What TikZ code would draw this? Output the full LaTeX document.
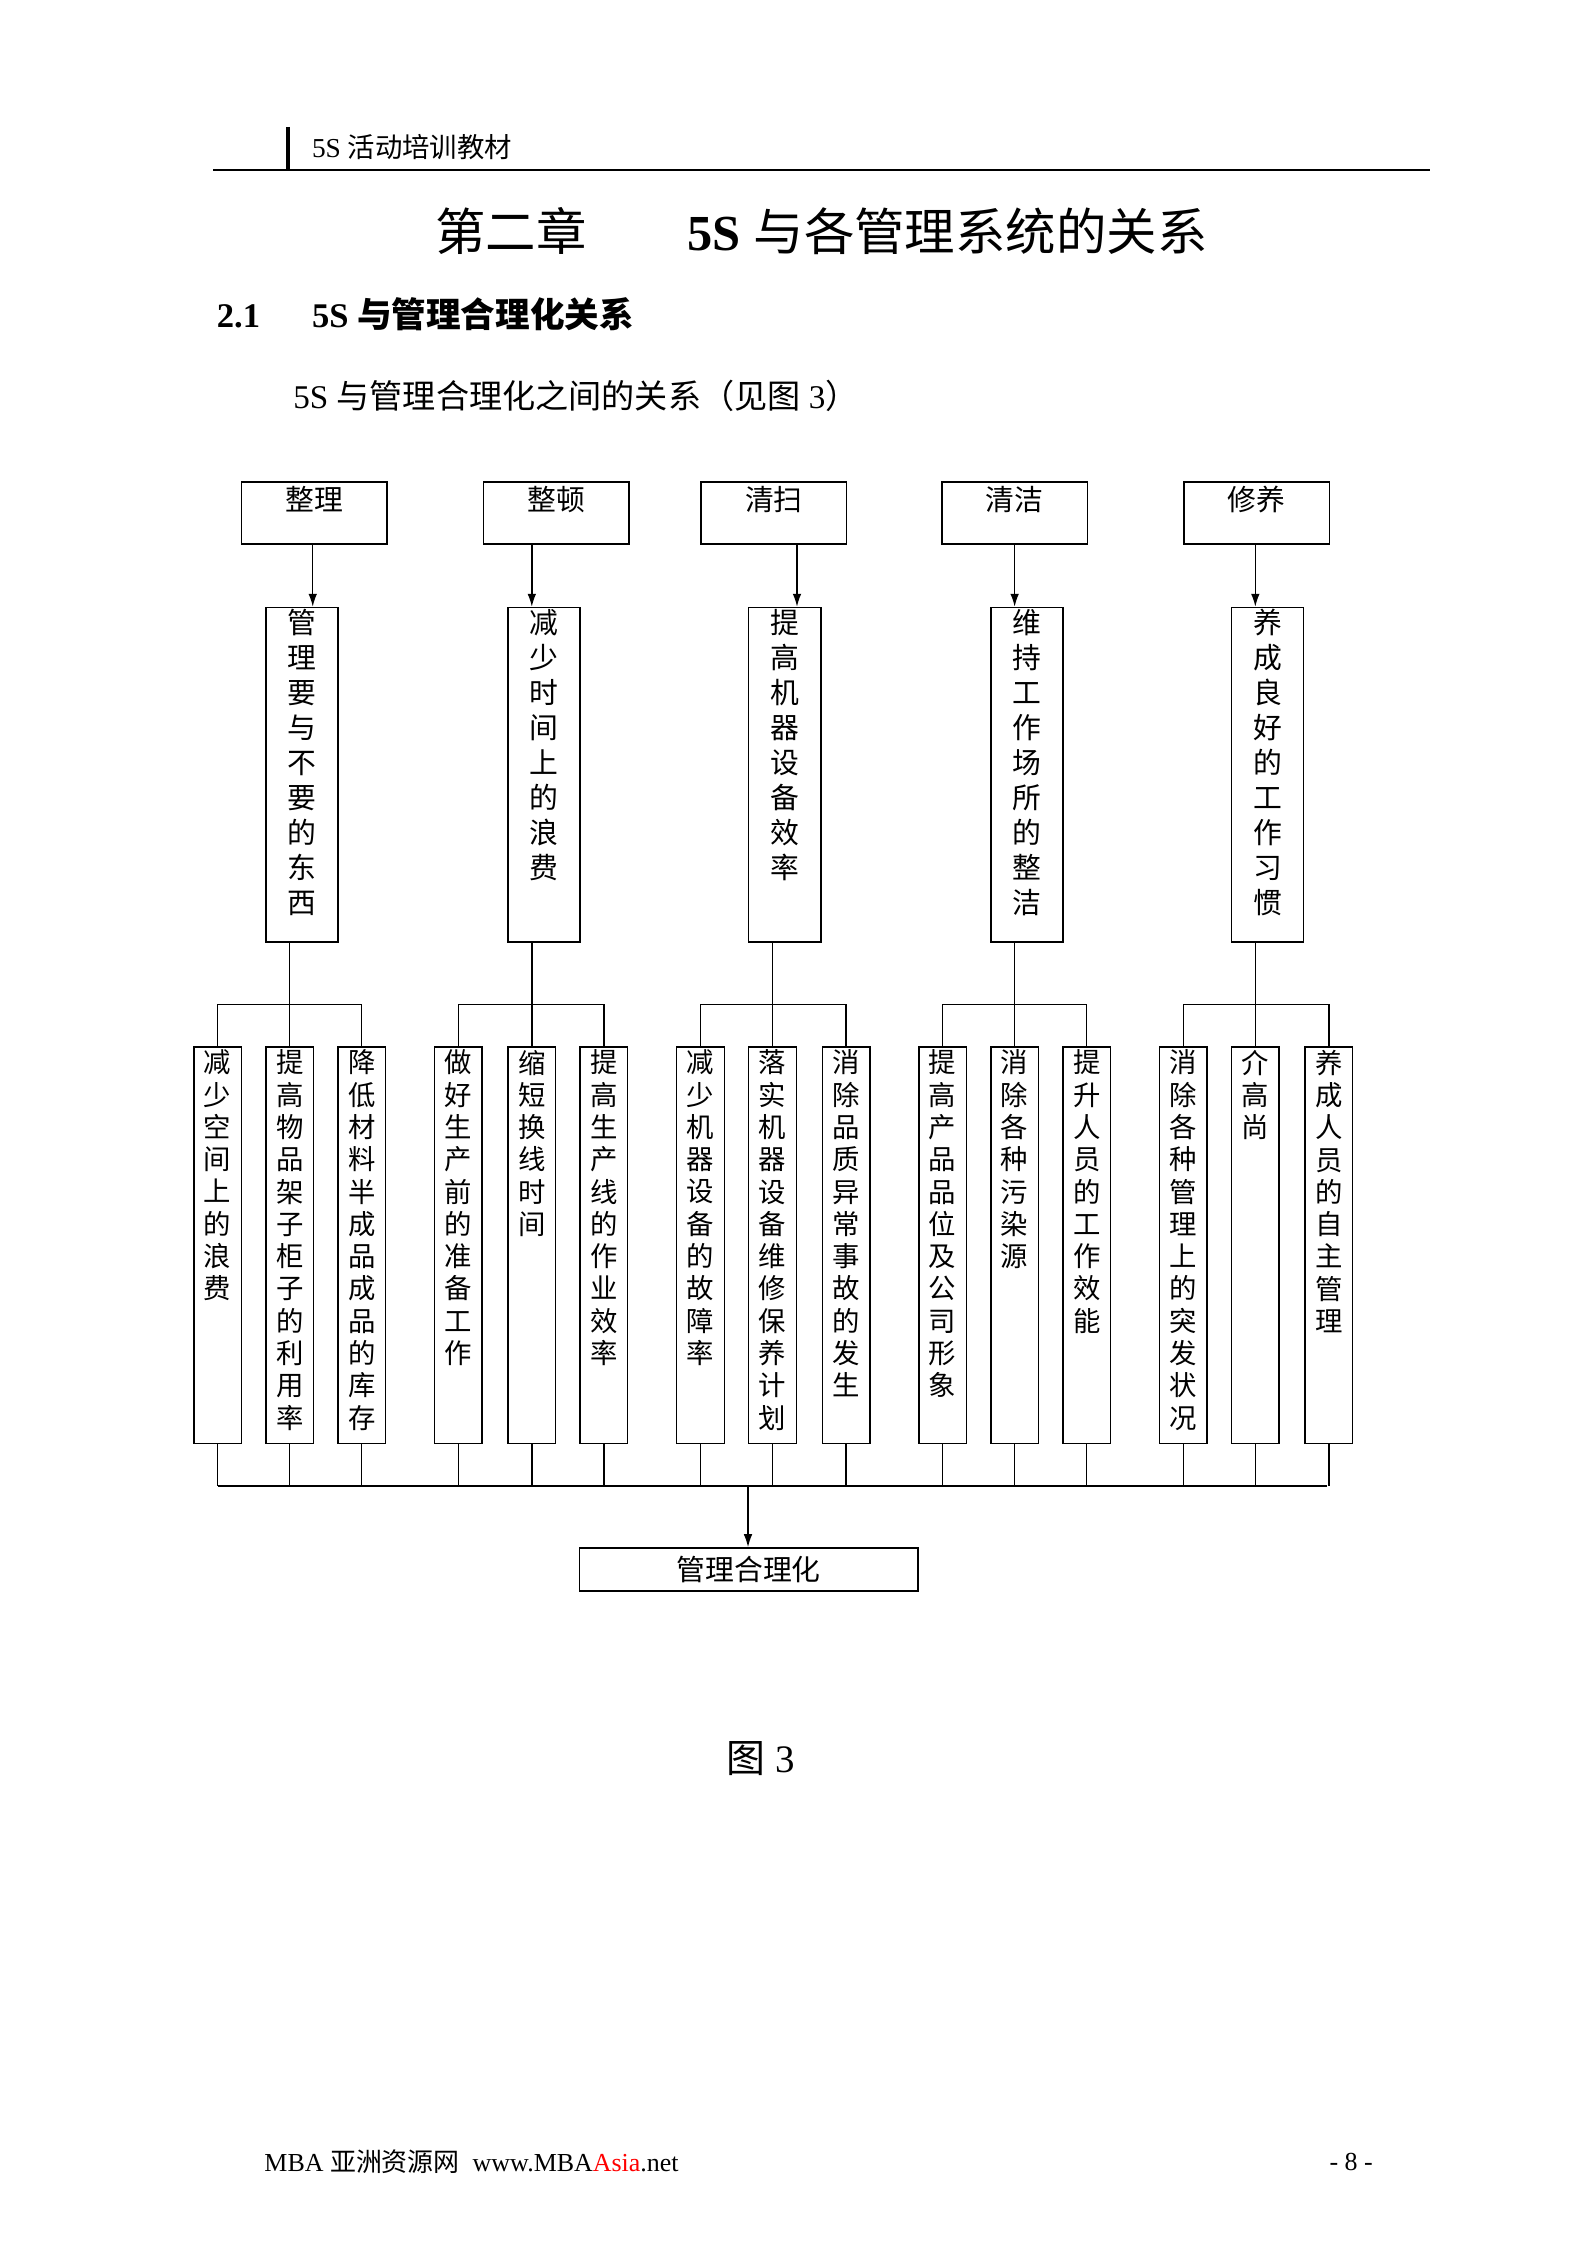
\documentclass[tikz,border=0pt]{standalone}
\usepackage{fontspec}
\usetikzlibrary{arrows.meta}
\setmainfont{Liberation Serif}
\newfontfamily\cjk{Noto Sans CJK SC}
\XeTeXlinebreaklocale "zh"
\XeTeXlinebreakskip=0pt plus 1pt
\begin{document}
\begin{tikzpicture}[x=1pt,y=-1pt,line width=1pt,
  bx/.style={draw,inner sep=0,anchor=north west},
  vtm/.style={anchor=north,inner sep=0,text width=21pt,align=center,font=\cjk\fontsize{20}{24.3}\selectfont},
  vtb/.style={anchor=north,inner sep=0,text width=20pt,align=center,font=\cjk\fontsize{19}{22.4}\selectfont},
  arr/.style={-{Latex[length=9pt,width=6pt]}}]
\useasboundingbox (0,0) rectangle (1100,1557);
% header
\draw[line width=3pt] (200,88) -- (200,117);
\node[anchor=west,inner sep=0,font=\fontsize{19}{22}\selectfont] (hd) at (216,102) {5S {\cjk 活动培训教材}};
\draw (148,118) -- (992,118);
\node[inner sep=0,font=\fontsize{35}{40}\selectfont] (title) at (570,160) {{\cjk 第二章}\hspace{70pt}\textbf{5S} {\cjk 与各管理系统的关系}};
\node[anchor=west,inner sep=0,font=\fontsize{24}{28}\selectfont\bfseries] (sec) at (150,218) {2.1\hspace{36pt}5S {\cjk 与管理合理化关系}};
\node[anchor=west,inner sep=0,font=\fontsize{23}{28}\selectfont] (intro) at (203,275) {5S {\cjk 与管理合理化之间的关系（见图} 3{\cjk ）}};
% top boxes
\foreach \n/\x/\t in {t1/167/整理,t2/335/整顿,t3/486/清扫,t4/653/清洁,t5/821/修养}{
  \node[bx,minimum width=101pt,minimum height=43pt] (\n) at (\x,334) {};
  \node[anchor=north,inner sep=0,font=\cjk\fontsize{20}{24}\selectfont] at ([yshift=-3pt]\n.north) {\t};
}
% middle boxes
\foreach \n/\x/\t in {m1/184/管理要与不要的东西,m2/352/减少时间上的浪费,m3/519/提高机器设备效率,m4/687/维持工作场所的整洁,m5/854/养成良好的工作习惯}{
  \node[bx,minimum width=50pt,minimum height=232pt] (\n) at (\x,421) {};
  \node[vtm] at ([yshift=-1pt]\n.north) {\t};
}
\foreach \i/\ax in {1/217,2/369,3/553,4/704,5/871}{
  \draw[arr] (t\i.south -| \ax,0) -- (m\i.north -| \ax,0);
}
% bottom boxes
\foreach \n/\x/\t in {b1/134/减少空间上的浪费,b2/184/提高物品架子柜子的利用率,b3/234/降低材料半成品成品的库存,
  b4/301/做好生产前的准备工作,b5/352/缩短换线时间,b6/402/提高生产线的作业效率,
  b7/469/减少机器设备的故障率,b8/519/落实机器设备维修保养计划,b9/570/消除品质异常事故的发生,
  b10/637/提高产品品位及公司形象,b11/687/消除各种污染源,b12/737/提升人员的工作效能,
  b13/804/消除各种管理上的突发状况,b14/854/介高尚,b15/905/养成人员的自主管理}{
  \node[bx,minimum width=33pt,minimum height=275pt] (\n) at (\x,726) {};
  \node[vtb] at ([yshift=-2pt]\n.north) {\t};
}
\foreach \i/\mx/\a/\b/\c in {1/201/1/2/3,2/369/4/5/6,3/536/7/8/9,4/704/10/11/12,5/871/13/14/15}{
  \coordinate (j\i) at (\mx,697);
  \draw (m\i.south -| j\i) -- (j\i);
  \draw (b\a.north) |- (j\i) -| (b\c.north);
  \draw (j\i) -- (b\b.north);
}
\coordinate (bl) at (151,1031);
\coordinate (br) at (921,1031);
\draw (bl) -- (br);
\foreach \i in {1,...,15}{ \draw (b\i.south) -- (b\i.south |- bl); }
\node[draw,minimum width=235pt,minimum height=30pt,inner sep=0,font=\cjk\fontsize{20}{24}\selectfont] (fin) at (519.5,1089) {管理合理化};
\draw[arr] (519,1031) -- (fin.north -| 519,0);
\node[inner sep=0,font=\fontsize{27}{30}\selectfont] (cap) at (528,1220) {{\cjk 图} 3};
% footer
\node[anchor=west,inner sep=0,font=\fontsize{18}{22}\selectfont] (ft) at (183,1500) {MBA {\cjk 亚洲资源网}\ \ www.MBA\textcolor{red}{Asia}.net};
\node[anchor=west,inner sep=0,font=\fontsize{18}{22}\selectfont] (pg) at (922,1500) {- 8 -};
\end{tikzpicture}
\end{document}
